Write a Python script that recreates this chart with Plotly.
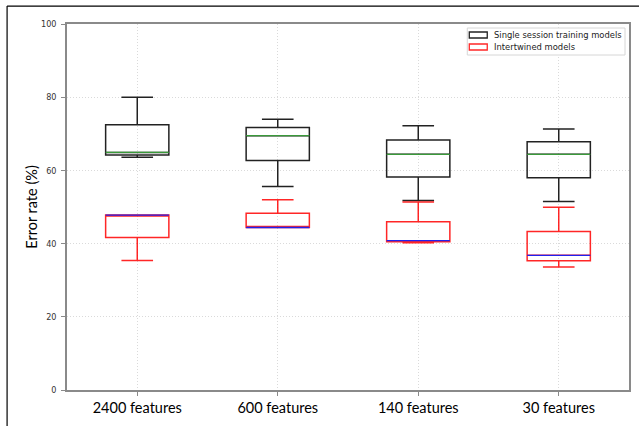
import plotly.graph_objects as go

categories = ["2400 features", "600 features", "140 features", "30 features"]
positions = [1, 2, 3, 4]

# Single session training models
single_lower = [63.6, 55.6, 51.8, 51.5]
single_q1 = [64.2, 62.7, 58.2, 58.0]
single_median = [64.9, 69.5, 64.4, 64.4]
single_q3 = [72.5, 71.7, 68.3, 67.8]
single_upper = [80.0, 74.0, 72.2, 71.3]

# Intertwined models
inter_lower = [35.4, 44.4, 40.2, 33.6]
inter_q1 = [41.7, 44.4, 40.5, 35.3]
inter_median = [47.8, 44.4, 40.8, 36.8]
inter_q3 = [47.8, 48.3, 46.0, 43.3]
inter_upper = [47.8, 52.0, 51.4, 49.9]

series_names = ["Single session training models", "Intertwined models"]
y_ticks = [0, 20, 40, 60, 80, 100]

BOX_W = 0.45
BLACK = "#222222"
RED = "rgba(255,0,0,0.85)"

fig = go.Figure()

def add_box(name, color, lower, q1, med, q3, upper):
    fig.add_trace(go.Box(
        name=name, x=positions, q1=q1, median=med, q3=q3,
        lowerfence=lower, upperfence=upper,
        width=BOX_W, whiskerwidth=0.5,
        line=dict(color=color, width=1.5),
        fillcolor="rgba(255,255,255,0)",
        boxpoints=False, showlegend=False,
    ))

add_box(series_names[0], BLACK,
        single_lower, single_q1, single_median, single_q3, single_upper)
add_box(series_names[1], RED,
        inter_lower, inter_q1, inter_median, inter_q3, inter_upper)

def add_medians(meds, color):
    xs, ys = [], []
    for p, m in zip(positions, meds):
        xs += [p - BOX_W / 2, p + BOX_W / 2, None]
        ys += [m, m, None]
    fig.add_trace(go.Scatter(x=xs, y=ys, mode="lines",
                             line=dict(color=color, width=1.3),
                             showlegend=False, hoverinfo="skip"))

add_medians(single_median, "#3a9a3a")
add_medians(inter_median, "#2020ee")

# --- compact legend (matplotlib style), in paper coordinates ---
PW, PH = 563.0, 366.0  # plot area size in px
def px_x(px):  # px from plot left
    return px / PW
def px_y(py):  # px from plot top
    return 1 - py / PH

shapes = [
    # outer figure frame (left & top)
    dict(type="line", xref="paper", yref="paper",
         x0=-0.1066, x1=-0.1066, y0=1.049, y1=-0.2,
         line=dict(color="black", width=1.2)),
    dict(type="line", xref="paper", yref="paper",
         x0=-0.1066, x1=1.02, y0=1.049, y1=1.049,
         line=dict(color="black", width=1.2)),
    # legend frame
    dict(type="rect", xref="paper", yref="paper",
         x0=px_x(401), x1=px_x(559), y0=px_y(31), y1=px_y(4),
         line=dict(color="#d6d6d6", width=1), fillcolor="white", layer="above"),
]
annotations = []
for i, (name, col) in enumerate(zip(series_names, [BLACK, RED])):
    cy = 11 + 12 * i
    shapes.append(dict(type="rect", xref="paper", yref="paper",
                       x0=px_x(403), x1=px_x(421), y0=px_y(cy + 3), y1=px_y(cy - 3),
                       line=dict(color=col, width=1.3), fillcolor="white", layer="above"))
    annotations.append(dict(xref="paper", yref="paper", x=px_x(426), y=px_y(cy),
                            xanchor="left", yanchor="middle", showarrow=False,
                            text=name, font=dict(family="DejaVu Sans", size=8.4, color="#222")))

fig.update_layout(
    width=639, height=426,
    margin=dict(l=67, r=8, t=24, b=36),
    paper_bgcolor="white", plot_bgcolor="white",
    boxmode="overlay",
    showlegend=False,
    shapes=shapes,
    annotations=annotations,
)

fig.update_xaxes(
    range=[0.5, 4.5], tickmode="array", tickvals=positions, ticktext=categories,
    tickfont=dict(family="Lato", size=14.5, color="black"),
    showgrid=True, gridcolor="#dadada", griddash="1px,2px", gridwidth=1,
    showline=True, linecolor="#8a8a8a", linewidth=1.5, mirror=True,
    ticks="outside", ticklen=4, tickcolor="#8a8a8a", zeroline=False,
)
fig.update_yaxes(
    range=[0, 100], tickmode="array", tickvals=y_ticks,
    tickfont=dict(family="Liberation Sans Narrow, DejaVu Sans Condensed", size=9, color="#333"),
    ticklabelstandoff=3,
    title=dict(text="Error rate (%)", font=dict(family="Lato", size=14.5, color="black"),
               standoff=0),
    showgrid=True, gridcolor="#dadada", griddash="1px,2px", gridwidth=1,
    showline=True, linecolor="#8a8a8a", linewidth=1.5, mirror=True,
    ticks="outside", ticklen=4, tickcolor="#8a8a8a", zeroline=False,
)

fig.write_html(
    "out.html",
    config={"displayModeBar": False},
    post_script="document.body.style.margin='0';document.body.style.overflow='hidden';",
)
